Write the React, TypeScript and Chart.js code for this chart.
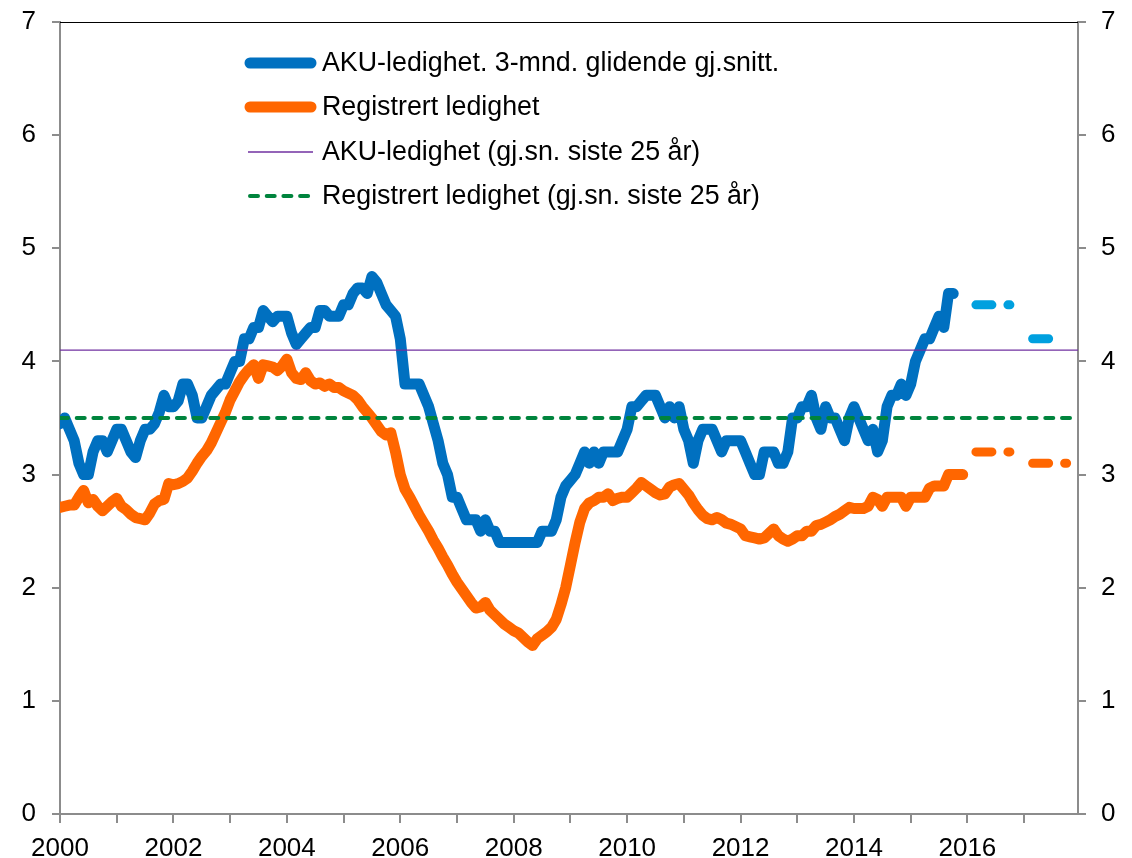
import React, { useEffect, useRef } from "react";
import { Chart, registerables } from "chart.js";

Chart.register(...registerables);

// ---------- DATA ----------
const startYear = 2000;
const xMin = 2000;
const xMax = 2017.95;
const yMin = 0;
const yMax = 7;

// AKU-ledighet, 3-mnd. glidende gj.snitt (monthly, from Jan 2000)
const akuMonthly = [
  3.45, 3.5, 3.4, 3.3, 3.1, 3.0, 3.0, 3.2, 3.3, 3.3, 3.2, 3.3,
  3.4, 3.4, 3.3, 3.2, 3.15, 3.3, 3.4, 3.4, 3.45, 3.55, 3.7, 3.6,
  3.6, 3.65, 3.8, 3.8, 3.7, 3.5, 3.5, 3.6, 3.7, 3.75, 3.8, 3.8,
  3.9, 4.0, 4.0, 4.2, 4.2, 4.3, 4.3, 4.45, 4.4, 4.35, 4.4, 4.4,
  4.4, 4.25, 4.15, 4.2, 4.25, 4.3, 4.3, 4.45, 4.45, 4.4, 4.4, 4.4,
  4.5, 4.5, 4.6, 4.65, 4.65, 4.6, 4.75, 4.7, 4.6, 4.5, 4.45, 4.4,
  4.2, 3.8, 3.8, 3.8, 3.8, 3.7, 3.6, 3.45, 3.3, 3.1, 3.0, 2.8,
  2.8, 2.7, 2.6, 2.6, 2.6, 2.5, 2.6, 2.5, 2.5, 2.4, 2.4, 2.4,
  2.4, 2.4, 2.4, 2.4, 2.4, 2.4, 2.5, 2.5, 2.5, 2.6, 2.8, 2.9,
  2.95, 3.0, 3.1, 3.2, 3.1, 3.2, 3.1, 3.2, 3.2, 3.2, 3.2, 3.3,
  3.4, 3.6, 3.6, 3.65, 3.7, 3.7, 3.7, 3.6, 3.5, 3.6, 3.5, 3.6,
  3.4, 3.3, 3.1, 3.3, 3.4, 3.4, 3.4, 3.3, 3.2, 3.3, 3.3, 3.3,
  3.3, 3.2, 3.1, 3.0, 3.0, 3.2, 3.2, 3.2, 3.1, 3.1, 3.2, 3.5,
  3.5, 3.6, 3.6, 3.7, 3.5, 3.4, 3.6, 3.5, 3.5, 3.4, 3.3, 3.5,
  3.6, 3.5, 3.4, 3.3, 3.4, 3.2, 3.3, 3.6, 3.7, 3.7, 3.8, 3.7,
  3.8, 4.0, 4.1, 4.2, 4.2, 4.3, 4.4, 4.3, 4.6, 4.6,
];

// Registrert ledighet (monthly, from Jan 2000)
const regMonthly = [
  2.71, 2.72, 2.73, 2.73, 2.8, 2.86, 2.75, 2.78, 2.72, 2.68, 2.72, 2.76,
  2.79, 2.72, 2.69, 2.65, 2.62, 2.61, 2.6, 2.66, 2.74, 2.77, 2.78, 2.92,
  2.91, 2.92, 2.94, 2.97, 3.03, 3.1, 3.16, 3.21, 3.28, 3.37, 3.46, 3.55,
  3.66, 3.74, 3.82, 3.88, 3.93, 3.97, 3.85, 3.97, 3.96, 3.95, 3.92, 3.96,
  4.02, 3.9, 3.85, 3.84, 3.9, 3.83, 3.8, 3.81, 3.78, 3.8, 3.77, 3.77,
  3.74, 3.72, 3.7, 3.66, 3.6, 3.55, 3.5, 3.44, 3.38, 3.35, 3.37, 3.2,
  3.0, 2.87, 2.8, 2.72, 2.64, 2.57, 2.5, 2.42, 2.35, 2.27, 2.2, 2.12,
  2.05, 1.99, 1.93, 1.87, 1.82, 1.83, 1.87, 1.8, 1.76, 1.72, 1.68, 1.65,
  1.62, 1.6, 1.56, 1.52, 1.49, 1.55, 1.58, 1.61, 1.65, 1.72, 1.85, 2.0,
  2.2, 2.4, 2.58, 2.7, 2.75, 2.77, 2.8, 2.8, 2.83, 2.77, 2.79, 2.8,
  2.8, 2.84, 2.88, 2.93, 2.9, 2.87, 2.84, 2.82, 2.83, 2.89, 2.91, 2.92,
  2.87, 2.82, 2.75, 2.69, 2.64, 2.61, 2.6, 2.62, 2.6, 2.57, 2.56, 2.54,
  2.52, 2.46, 2.45, 2.44, 2.43, 2.44, 2.48, 2.52, 2.46, 2.43, 2.41, 2.43,
  2.46, 2.46, 2.5, 2.5, 2.55, 2.56, 2.58, 2.6, 2.63, 2.65, 2.68, 2.71,
  2.7, 2.7, 2.7, 2.72, 2.8, 2.78, 2.72, 2.8, 2.8, 2.8, 2.8, 2.72,
  2.8, 2.8, 2.8, 2.8, 2.88, 2.9, 2.9, 2.9, 3.0, 3.0, 3.0, 3.0,
];

// Forecasts (annual)
const forecastYears = [2016, 2017];
const akuForecast = [4.5, 4.2];
const regForecast = [3.2, 3.1];
const akuForecastEnd = [0.82, 0.62]; // fraction of year where segment ends
const regForecastEnd = [0.82, 0.82];
const forecastStart = 0.15; // fraction of year where segment starts

// 25-year averages
const akuAverage = 4.1;
const regAverage = 3.5;

const legendLabels = [
  "AKU-ledighet. 3-mnd. glidende gj.snitt.",
  "Registrert ledighet",
  "AKU-ledighet (gj.sn. siste 25 år)",
  "Registrert ledighet (gj.sn. siste 25 år)",
];

// ---------- STYLE ----------
const BLUE = "#0070C0";
const ORANGE = "#FF6600";
const LIGHT_BLUE = "#00A0DF";
const PURPLE = "#7030A0";
const GREEN = "#00843D";
const AXIS_GREY = "#8C8C8C";
const FONT = "'Liberation Sans', Arial, Helvetica, sans-serif";

const monthlyPoints = (arr: number[]) =>
  arr.map((v, i) => ({ x: startYear + i / 12, y: v }));

const forecastPoints = (vals: number[], ends: number[]) =>
  forecastYears.flatMap((yr, k) => [
    { x: yr + forecastStart, y: vals[k] },
    { x: yr + ends[k], y: vals[k] },
    { x: yr + ends[k] + 0.05, y: null as any },
  ]);

const flatLine = (v: number) => [
  { x: xMin, y: v },
  { x: xMax, y: v },
];

const legendPlugin = {
  id: "customLegend",
  afterDraw(chart: any) {
    const ctx = chart.ctx as CanvasRenderingContext2D;
    const area = chart.chartArea;
    const rowsY = [41, 85, 130, 174];
    const lineX0 = area.left + 188;
    const lineX1 = area.left + 253;
    const textX = area.left + 262;
    ctx.save();
    // top frame line
    ctx.strokeStyle = "#000";
    ctx.lineWidth = 1;
    ctx.beginPath();
    ctx.moveTo(area.left, Math.round(area.top) + 0.5);
    ctx.lineTo(area.right, Math.round(area.top) + 0.5);
    ctx.stroke();

    for (let i = 0; i < legendLabels.length; i++) {
      const ds = chart.data.datasets[i];
      const y = area.top + rowsY[i];
      ctx.strokeStyle = ds.borderColor;
      ctx.lineWidth = ds.borderWidth;
      ctx.lineCap = ds.borderCapStyle || "butt";
      ctx.setLineDash(ds.borderDash || []);
      ctx.beginPath();
      const pad = ds.borderWidth > 3 ? 2 : 0;
      ctx.moveTo(lineX0 + pad, y);
      ctx.lineTo(lineX1 - pad, y);
      ctx.stroke();
      ctx.setLineDash([]);
      ctx.fillStyle = "#000";
      ctx.font = `26.8px ${FONT}`;
      ctx.textBaseline = "middle";
      ctx.textAlign = "left";
      ctx.fillText(legendLabels[i], textX, y + 1);
    }
    ctx.restore();
  },
};

export default function App() {
  const canvasRef = useRef<HTMLCanvasElement | null>(null);

  useEffect(() => {
    if (!canvasRef.current) return;
    const tickFont = { family: FONT, size: 26 };
    const fitY = (w: number) => (s: any) => {
      s.width = w;
      s.paddingTop = 0;
      s.paddingBottom = 0;
    };
    const chart = new Chart(canvasRef.current, {
      type: "line",
      data: {
        datasets: [
          {
            label: legendLabels[0],
            data: monthlyPoints(akuMonthly),
            borderColor: BLUE,
            borderWidth: 11,
            borderCapStyle: "round",
            borderJoinStyle: "round",
            pointRadius: 0,
            tension: 0,
            order: 3,
            clip: { left: 0, right: 20, top: 20, bottom: 20 } as any,
          },
          {
            label: legendLabels[1],
            data: monthlyPoints(regMonthly),
            borderColor: ORANGE,
            borderWidth: 11,
            borderCapStyle: "round",
            borderJoinStyle: "round",
            pointRadius: 0,
            tension: 0,
            order: 4,
            clip: { left: 0, right: 20, top: 20, bottom: 20 } as any,
          },
          {
            label: legendLabels[2],
            data: flatLine(akuAverage),
            borderColor: PURPLE,
            borderWidth: 1.3,
            pointRadius: 0,
            order: 1,
          },
          {
            label: legendLabels[3],
            data: flatLine(regAverage),
            borderColor: GREEN,
            borderWidth: 4,
            borderDash: [8, 8.7],
            borderCapStyle: "round",
            pointRadius: 0,
            order: 0,
          },
          {
            label: "AKU prognose",
            data: forecastPoints(akuForecast, akuForecastEnd),
            borderColor: LIGHT_BLUE,
            borderWidth: 9,
            borderDash: [16, 16, 2, 16],
            borderCapStyle: "round",
            pointRadius: 0,
            spanGaps: false,
            order: 2,
          },
          {
            label: "Registrert prognose",
            data: forecastPoints(regForecast, regForecastEnd),
            borderColor: ORANGE,
            borderWidth: 9,
            borderDash: [16, 16, 2, 16],
            borderCapStyle: "round",
            pointRadius: 0,
            spanGaps: false,
            order: 2,
          },
        ] as any,
      },
      plugins: [legendPlugin],
      options: {
        animation: false,
        responsive: false,
        maintainAspectRatio: false,
        layout: { padding: { top: 22, left: 0, right: 0, bottom: 0 } },
        plugins: {
          legend: { display: false },
          tooltip: { enabled: false },
        },
        scales: {
          x: {
            type: "linear",
            position: "bottom",
            min: xMin,
            max: xMax,
            afterFit: (s: any) => {
              s.height = 44;
            },
            ticks: {
              stepSize: 1,
              autoSkip: false,
              includeBounds: false,
              maxRotation: 0,
              minRotation: 0,
              padding: 10,
              color: "#000",
              font: tickFont,
              callback: (v: any) => (Number(v) % 2 === 0 ? String(v) : ""),
            },
            grid: {
              drawOnChartArea: false,
              drawTicks: true,
              tickLength: 9,
              color: AXIS_GREY,
              lineWidth: 2,
            },
            border: { display: true, color: AXIS_GREY, width: 2 },
          },
          y: {
            type: "linear",
            position: "left",
            min: yMin,
            max: yMax,
            afterFit: fitY(60),
            ticks: {
              stepSize: 1,
              padding: 16,
              color: "#000",
              font: tickFont,
            },
            grid: {
              drawOnChartArea: false,
              drawTicks: true,
              tickLength: 8,
              color: AXIS_GREY,
              lineWidth: 2,
            },
            border: { display: true, color: AXIS_GREY, width: 2 },
          },
          y2: {
            type: "linear",
            position: "right",
            min: yMin,
            max: yMax,
            afterFit: fitY(54),
            ticks: {
              stepSize: 1,
              padding: 15,
              color: "#000",
              font: tickFont,
            },
            grid: {
              drawOnChartArea: false,
              drawTicks: true,
              tickLength: 8,
              color: AXIS_GREY,
              lineWidth: 2,
            },
            border: { display: true, color: AXIS_GREY, width: 2 },
          },
        },
      } as any,
    });
    return () => chart.destroy();
  }, []);

  return (
    <div
      style={{
        position: "absolute",
        left: 0,
        top: 0,
        width: 1132,
        height: 858,
        background: "#fff",
      }}
    >
      <canvas ref={canvasRef} width={1132} height={858} />
    </div>
  );
}
